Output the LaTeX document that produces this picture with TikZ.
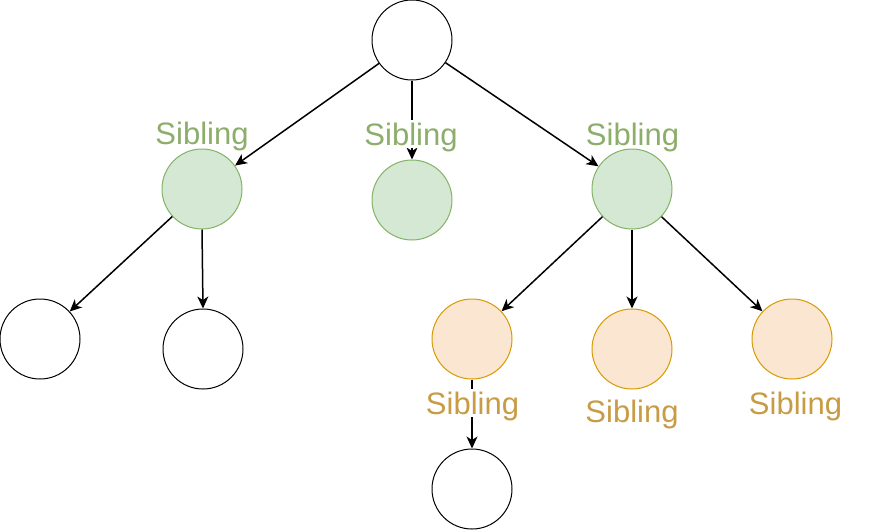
\documentclass[tikz,border=0pt]{standalone}
\usepackage{fontspec}
\setmainfont{Liberation Sans}
\usetikzlibrary{arrows.meta}
\definecolor{gfill}{HTML}{D5E8D4}
\definecolor{gline}{HTML}{82B366}
\definecolor{gtext}{HTML}{8DAD6B}
\definecolor{ofill}{HTML}{FAE6D1}
\definecolor{oline}{HTML}{D79B00}
\definecolor{otext}{HTML}{C89B45}
\tikzset{
  circ/.style={circle, draw=black, line width=1pt, minimum size=80pt, inner sep=0pt, fill=white},
  gcirc/.style={circ, draw=gline, fill=gfill},
  ocirc/.style={circ, draw=oline, fill=ofill},
  arr/.style={line width=1.5pt, -{Stealth[length=12pt, width=11pt, inset=3.5pt]}},
  lbl/.style={font=\fontsize{31}{31}\selectfont, anchor=base, fill=white, inner xsep=1pt, inner ysep=3pt, text depth=0pt},
  glbl/.style={lbl, text=gtext},
  olbl/.style={lbl, text=otext}
}
\begin{document}
\begin{tikzpicture}[x=1pt, y=-1pt]
\useasboundingbox (0,0) rectangle (885,531);
\node[circ] (root) at (412,40) {};
\node[gcirc] (g1) at (202,189) {};
\node[gcirc] (g2) at (412,200) {};
\node[gcirc] (g3) at (632,189) {};
\node[circ] (c1) at (40,339) {};
\node[circ] (c2) at (203,349) {};
\node[ocirc] (o1) at (472,339) {};
\node[ocirc] (o2) at (632,349) {};
\node[ocirc] (o3) at (792,339) {};
\node[circ] (b1) at (472,489) {};
\draw[arr] (root) -- (g1);
\draw[arr] (root) -- (g2);
\draw[arr] (root) -- (g3);
\draw[arr] (g1) -- (c1);
\draw[arr] (g1.south) -- (c2.north);
\draw[arr] (g3) -- (o1);
\draw[arr] (g3) -- (o2);
\draw[arr] (g3) -- (o3);
\draw[arr] (o1) -- (b1);
\node[glbl] (l1) at (202,144.5) {Sibling};
\node[glbl] (l2) at (411,145) {Sibling};
\node[glbl] (l3) at (632.5,145) {Sibling};
\node[olbl] (l4) at (472.5,414) {Sibling};
\node[olbl] (l5) at (632,422) {Sibling};
\node[olbl] (l6) at (795.5,414) {Sibling};
\end{tikzpicture}
\end{document}
